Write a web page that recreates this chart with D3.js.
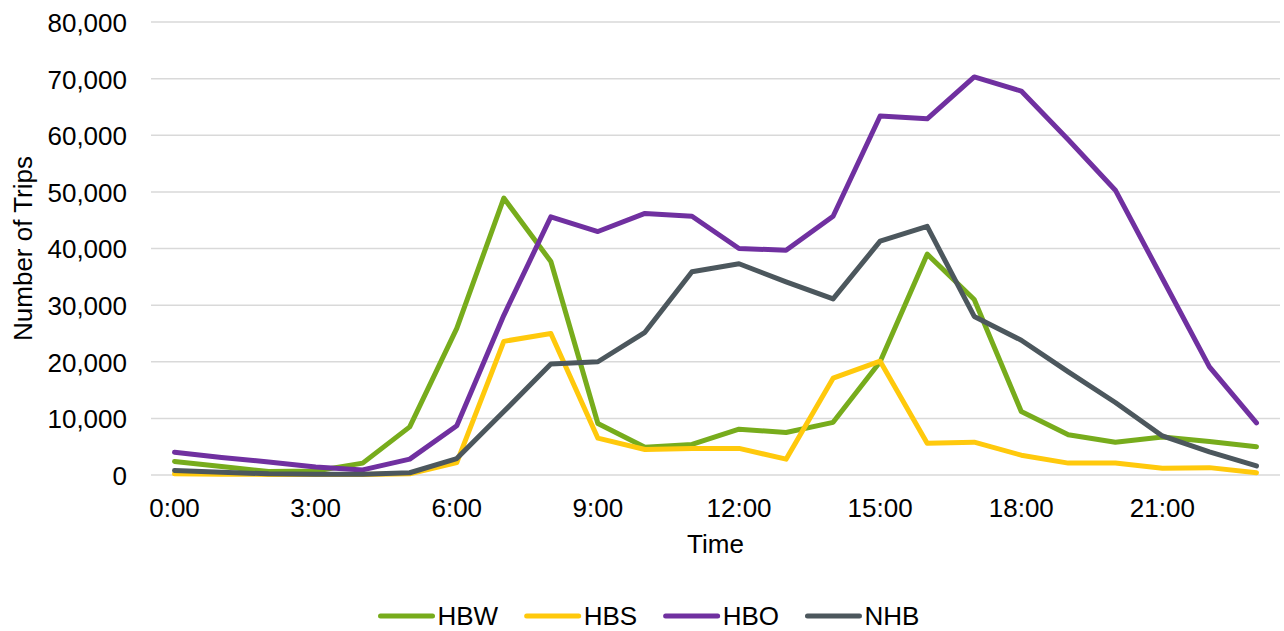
<!DOCTYPE html>
<html>
<head>
<meta charset="utf-8">
<script src="https://cdn.jsdelivr.net/npm/d3@7"></script>
<style>
  html, body { margin: 0; padding: 0; background: #fff; }
  svg { display: block; font-family: "Liberation Sans", Arial, sans-serif; }
</style>
</head>
<body>
<svg id="chart" width="1284" height="631"></svg>
<script>
const hours = d3.range(0, 24);
const hourLabels = hours.map(h => h + ":00");
const yTicks = [0, 10000, 20000, 30000, 40000, 50000, 60000, 70000, 80000];

const seriesNames = ["HBW", "HBS", "HBO", "NHB"];
const seriesColors = ["#77AC1C", "#FFC90C", "#7030A0", "#4C575D"];

const HBW = [2400, 1500, 600, 700, 2100, 8500, 25900, 48900, 37700, 9100, 4900, 5400, 8100, 7500, 9300, 20000, 39000, 31000, 11200, 7100, 5800, 6700, 5900, 5000];
const HBS = [200, 150, 100, 100, 100, 200, 2200, 23600, 25000, 6500, 4500, 4700, 4700, 2800, 17100, 20100, 5600, 5800, 3500, 2100, 2100, 1200, 1300, 400];
const HBO = [4000, 3100, 2300, 1400, 900, 2800, 8700, 28200, 45600, 43000, 46200, 45700, 40000, 39700, 45700, 63400, 62900, 70300, 67800, 59200, 50300, 34700, 19100, 9200];
const NHB = [800, 500, 200, 150, 150, 400, 2900, 11200, 19600, 20000, 25200, 35900, 37300, 34100, 31100, 41300, 43900, 28000, 23800, 18200, 12800, 6900, 4100, 1600];

const seriesData = [HBW, HBS, HBO, NHB];

const svg = d3.select("#chart");
const mLeft = 151, mRight = 1280, mTop = 22, mBottom = 475;

const x = d3.scaleBand().domain(hours).range([mLeft, mRight]).padding(0);
const xc = h => x(h) + x.bandwidth() / 2;
const y = d3.scaleLinear().domain([0, 80000]).range([mBottom, mTop]);

// gridlines
svg.append("g")
  .selectAll("line")
  .data(yTicks)
  .join("line")
  .attr("x1", mLeft).attr("x2", mRight)
  .attr("y1", d => y(d)).attr("y2", d => y(d))
  .attr("stroke", "#d9d9d9").attr("stroke-width", 1.5);

// y axis labels
const yAxis = d3.axisLeft(y).tickValues(yTicks).tickFormat(d3.format(",")).tickSize(0).tickPadding(0);
const gy = svg.append("g").attr("transform", `translate(127,0)`).call(yAxis);
gy.select(".domain").remove();
gy.selectAll("text").attr("font-size", 26).attr("fill", "#000").attr("font-family", "Liberation Sans, Arial, sans-serif").attr("dy", "0.36em");

// x axis labels
const xAxis = d3.axisBottom(x).tickValues(hours.filter(h => h % 3 === 0))
  .tickFormat(h => hourLabels[h]).tickSize(0).tickPadding(0);
const gx = svg.append("g").attr("transform", `translate(0,${mBottom})`).call(xAxis);
gx.select(".domain").remove();
gx.selectAll("text").attr("font-size", 26).attr("fill", "#000").attr("font-family", "Liberation Sans, Arial, sans-serif")
  .attr("dy", "0").attr("y", 42);

// axis titles
svg.append("text")
  .attr("x", (mLeft + mRight) / 2).attr("y", 553)
  .attr("text-anchor", "middle").attr("font-size", 26).attr("fill", "#000")
  .text("Time");
svg.append("text")
  .attr("transform", `translate(32,${(mTop + mBottom) / 2}) rotate(-90)`)
  .attr("text-anchor", "middle").attr("font-size", 26).attr("fill", "#000")
  .text("Number of Trips");

// lines
const line = d3.line().x((d, i) => xc(hours[i])).y(d => y(d));
svg.append("g")
  .selectAll("path")
  .data(seriesData)
  .join("path")
  .attr("d", d => line(d))
  .attr("fill", "none")
  .attr("stroke", (d, i) => seriesColors[i])
  .attr("stroke-width", 5)
  .attr("stroke-linejoin", "round")
  .attr("stroke-linecap", "round");

// legend
const lg = svg.append("g");
let lx = 378;
seriesNames.forEach((name, i) => {
  const g = lg.append("g").attr("transform", `translate(${lx},616)`);
  g.append("line").attr("x1", 2.5).attr("x2", 54.5).attr("y1", 0).attr("y2", 0)
    .attr("stroke", seriesColors[i]).attr("stroke-width", 5).attr("stroke-linecap", "round");
  const t = g.append("text").attr("x", 59.5).attr("y", 0).attr("dy", "0.36em")
    .attr("font-size", 26).attr("fill", "#000").text(name);
  lx += 59.5 + t.node().getComputedTextLength() + 26;
});
</script>
</body>
</html>
